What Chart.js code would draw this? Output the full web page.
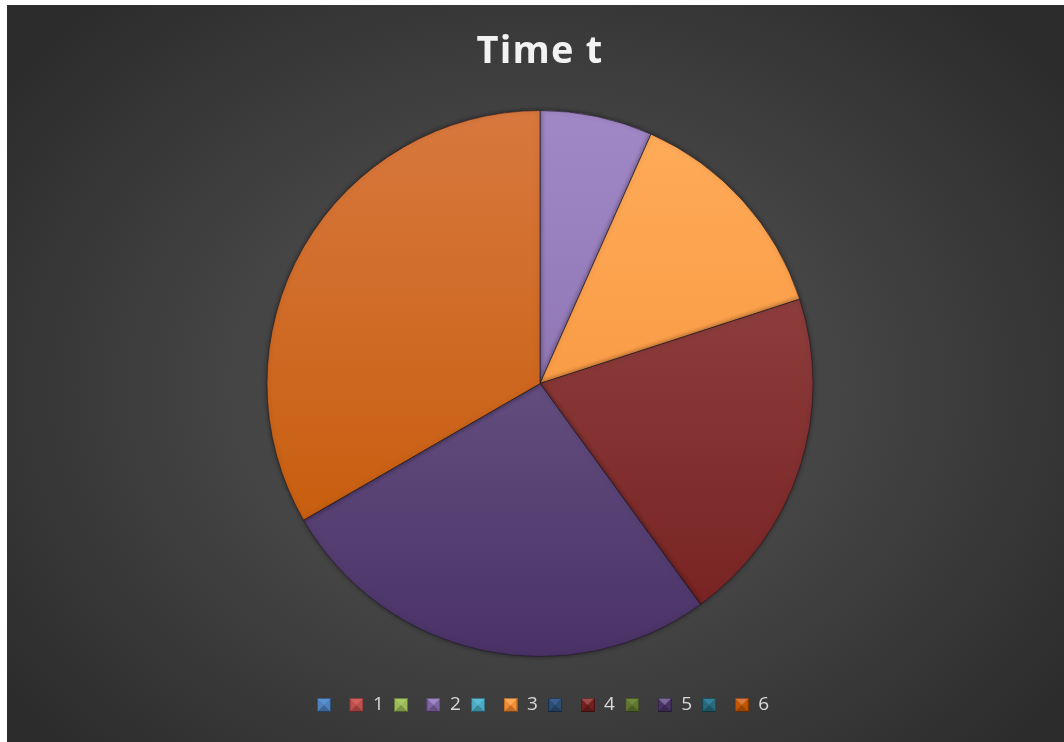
<!DOCTYPE html>
<html>
<head>
<meta charset="utf-8">
<script src="https://cdn.jsdelivr.net/npm/chart.js@4"></script>
<style>
  html, body { margin: 0; padding: 0; background: #ffffff; }
  #wrap {
    position: absolute; left: 7px; top: 5px; width: 1057px; height: 737px;
    background: radial-gradient(ellipse 62% 70% at 50% 52%, #4c4c4c 0%, #454545 45%, #2c2c2c 100%);
  }
</style>
</head>
<body>
<div id="wrap"><canvas id="pie"></canvas></div>
<script>
const labels = ['', '1', '', '2', '', '3', '', '4', '', '5', '', '6'];
const values = [0, 0, 0, 1, 0, 2, 0, 3, 0, 4, 0, 5];

// light (top) and base (bottom) shade for every category
const topColors = ['#5b8fcf', '#d0605c', '#a8c866', '#a088c6', '#5cbcd6', '#ffac5a',
                   '#3a5f8c', '#9a4c4c', '#70883c', '#7a6896', '#35809a', '#d8783e'];
const baseColors = ['#4f81bd', '#c0504d', '#9bbb59', '#8064a2', '#4bacc6', '#f48c32',
                    '#2c4d75', '#74201f', '#5f7530', '#4a3266', '#276a7c', '#c25600'];

// small bevelled square used as legend marker
function bevelBox(base, light) {
  const s = 14;
  const c = document.createElement('canvas');
  c.width = s; c.height = s;
  const g = c.getContext('2d');
  g.fillStyle = base;
  g.fillRect(0, 0, s, s);
  g.fillStyle = light;
  g.beginPath(); g.moveTo(0, 0); g.lineTo(s, 0); g.lineTo(s / 2, s / 2); g.closePath(); g.fill();
  g.fillStyle = 'rgba(0,0,0,0.22)';
  g.beginPath(); g.moveTo(0, s); g.lineTo(s, s); g.lineTo(s / 2, s / 2); g.closePath(); g.fill();
  g.strokeStyle = 'rgba(0,0,0,0.35)';
  g.strokeRect(0.5, 0.5, s - 1, s - 1);
  return c;
}
const markers = baseColors.map((c, i) => bevelBox(c, topColors[i]));

function sliceFill(ctx) {
  const chart = ctx.chart;
  const area = chart.chartArea;
  if (!area) return baseColors[ctx.dataIndex];
  const cy = (area.top + area.bottom) / 2;
  const g = chart.ctx.createLinearGradient(0, cy - 273, 0, cy + 273);
  g.addColorStop(0, topColors[ctx.dataIndex]);
  g.addColorStop(1, baseColors[ctx.dataIndex]);
  return g;
}

// soft shadow under the slices, slightly wider title lettering
const pieStyle = {
  id: 'pieStyle',
  beforeDraw(chart) {
    chart.ctx.letterSpacing = '1.2px';
  },
  beforeDatasetsDraw(chart) {
    const c = chart.ctx;
    c.letterSpacing = '0px';
    c.save();
    c.shadowColor = 'rgba(0,0,0,0.45)';
    c.shadowBlur = 5;
  },
  afterDatasetsDraw(chart) {
    chart.ctx.restore();
  }
};

new Chart(document.getElementById('pie'), {
  type: 'pie',
  data: {
    labels: labels,
    datasets: [{
      data: values,
      backgroundColor: sliceFill,
      borderColor: 'rgba(30,20,30,0.55)',
      borderWidth: 1,
      radius: 273
    }]
  },
  plugins: [pieStyle],
  options: {
    responsive: true,
    maintainAspectRatio: false,
    animation: false,
    layout: { padding: { left: 9, bottom: 17.5 } },
    plugins: {
      title: {
        display: true,
        text: 'Time t',
        color: '#f2f2f2',
        font: { family: '"Open Sans", sans-serif', size: 38, weight: 'bold' },
        padding: { top: 24, bottom: 6 }
      },
      legend: {
        position: 'bottom',
        labels: {
          usePointStyle: true,
          boxWidth: 14,
          boxHeight: 14,
          padding: 9,
          color: '#d9d9d9',
          font: { family: '"Open Sans", sans-serif', size: 19 },
          generateLabels(chart) {
            return chart.data.labels.map((text, i) => ({
              text: text,
              pointStyle: markers[i],
              fillStyle: baseColors[i],
              strokeStyle: baseColors[i],
              fontColor: '#d9d9d9',
              lineWidth: 0,
              hidden: !chart.getDataVisibility(i),
              index: i
            }));
          }
        }
      },
      tooltip: { enabled: false }
    }
  }
});
</script>
</body>
</html>
